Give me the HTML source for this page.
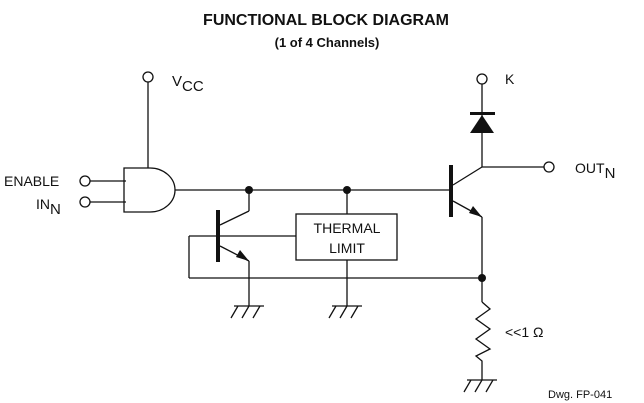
<!DOCTYPE html>
<html><head><style>
html,body{margin:0;padding:0;background:#fff;}
svg{display:block;}
text{font-family:"Liberation Sans",Arial,sans-serif;fill:#111;}
</style></head><body>
<svg width="644" height="403" viewBox="0 0 644 403" xmlns="http://www.w3.org/2000/svg">
<text x="326" y="25" font-size="16" font-weight="bold" text-anchor="middle">FUNCTIONAL BLOCK DIAGRAM</text>
<text x="327" y="47" font-size="13" font-weight="bold" text-anchor="middle">(1 of 4 Channels)</text>
<g stroke="#111" stroke-width="1.3" fill="none">
<circle cx="148" cy="77" r="5"/>
<line x1="148" y1="82" x2="148" y2="168"/>
<path d="M124 168 H150 A25 22 0 0 1 150 212 H124 Z"/>
<circle cx="85" cy="181" r="5"/>
<circle cx="85" cy="202" r="5"/>
<line x1="90" y1="181" x2="126" y2="181"/>
<line x1="90" y1="202" x2="126" y2="202"/>
<line x1="175" y1="190" x2="451" y2="190"/>
<line x1="249" y1="190" x2="249" y2="211"/>
<line x1="220" y1="225" x2="249" y2="211"/>
<line x1="220" y1="246" x2="249" y2="261"/>
<line x1="249" y1="261" x2="249" y2="306"/>
<line x1="189" y1="236" x2="296" y2="236"/>
<line x1="189" y1="236" x2="189" y2="278"/>
<line x1="189" y1="278" x2="482" y2="278"/>
<rect x="296" y="214" width="101" height="46"/>
<line x1="347" y1="190" x2="347" y2="214"/>
<line x1="347" y1="260" x2="347" y2="306"/>
<line x1="453" y1="185" x2="482" y2="167"/>
<line x1="482" y1="84" x2="482" y2="167"/>
<line x1="482" y1="167" x2="544" y2="167"/>
<circle cx="549" cy="167" r="5"/>
<circle cx="482" cy="79" r="5"/>
<line x1="453" y1="201" x2="482" y2="217"/>
<line x1="482" y1="217" x2="482" y2="302"/>
<polyline points="482,302 490,309 476,319 490,329 476,339 490,349 476,356 482,361 482,380"/>
<path d="M234 306 H264 M238 306 L231 318 M249 306 L242 318 M260 306 L253 318"/>
<path d="M332 306 H362 M336 306 L329 318 M347 306 L340 318 M358 306 L351 318"/>
<path d="M467 380 H497 M471 380 L464 392 M482 380 L475 392 M493 380 L486 392"/>
</g>
<g fill="#111">
<rect x="216" y="210" width="4" height="52"/>
<rect x="449" y="165" width="4" height="52"/>
<circle cx="249" cy="190" r="4"/>
<circle cx="347" cy="190" r="4"/>
<circle cx="482" cy="278" r="4"/>
<polygon points="249,261 236,257 240,250"/>
<polygon points="482,217 469,213 473,206"/>
<rect x="470" y="112" width="25" height="3"/>
<polygon points="482,115 470,133 494,133"/>
</g>
<text x="347" y="233" font-size="14" text-anchor="middle">THERMAL</text>
<text x="347" y="253" font-size="14" text-anchor="middle">LIMIT</text>
<text x="172" y="86" font-size="15">V<tspan font-size="15" dy="5">CC</tspan></text>
<text x="4" y="186" font-size="14">ENABLE</text>
<text x="36" y="209" font-size="14">IN<tspan dy="5" font-size="15">N</tspan></text>
<text x="505" y="84" font-size="14">K</text>
<text x="575" y="173" font-size="14">OUT<tspan dy="5" font-size="15">N</tspan></text>
<text x="505" y="337" font-size="14">&lt;&lt;1 Ω</text>
<text x="548" y="398" font-size="11">Dwg. FP-041</text>
</svg>
</body></html>
